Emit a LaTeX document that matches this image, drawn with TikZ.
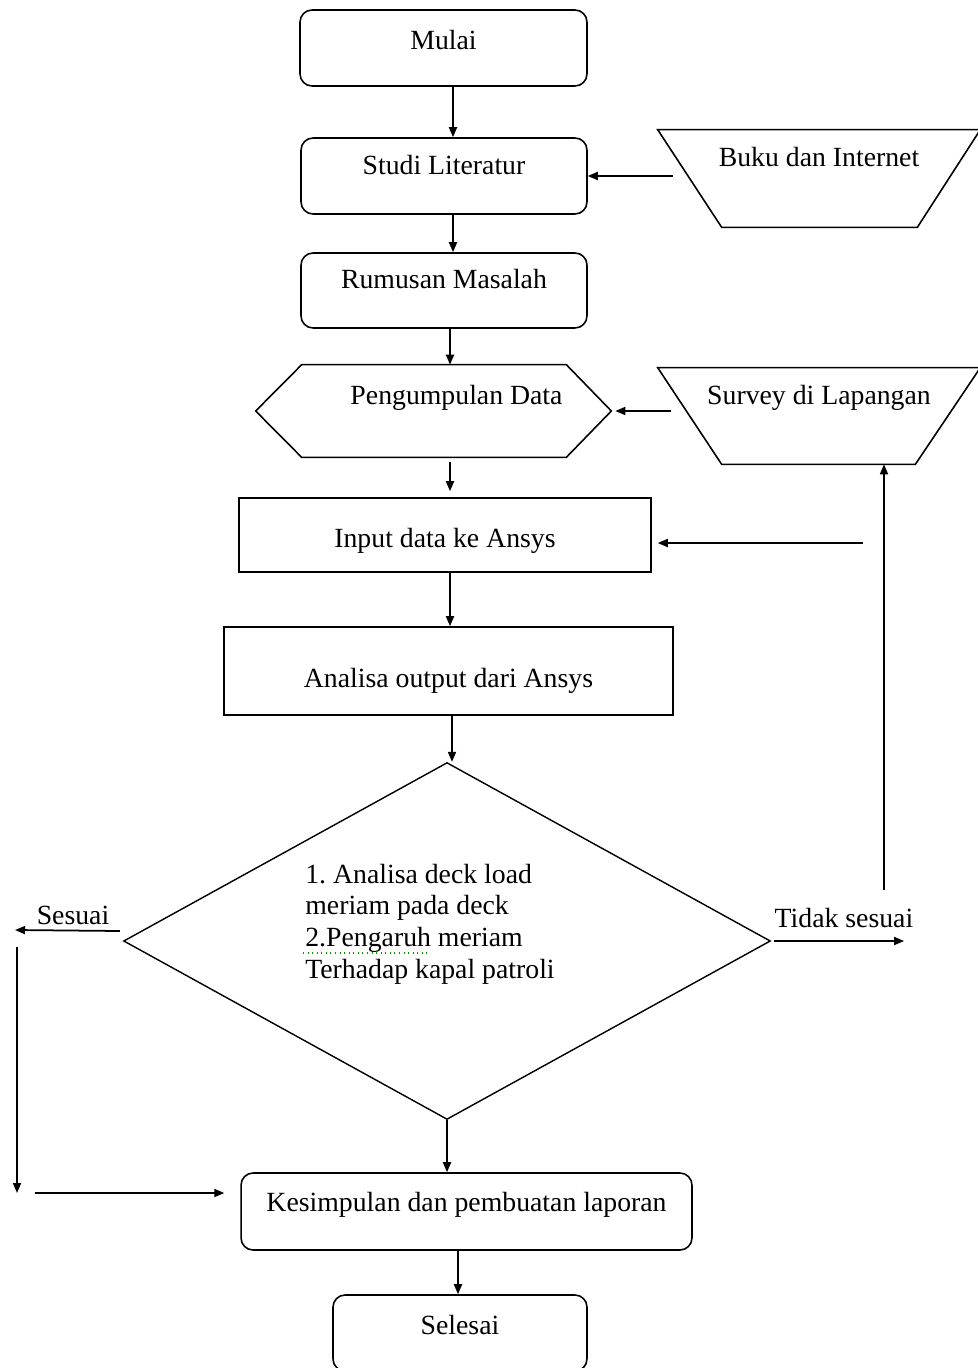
\documentclass[tikz,border=0pt]{standalone}
\usepackage{fontspec}
\setmainfont{Liberation Serif}
\usetikzlibrary{arrows.meta,shapes.geometric}
\frenchspacing

\begin{document}
\begin{tikzpicture}[x=0.02cm, y=-0.02cm,
  every node/.style={font=\fontsize{15.8}{18}\selectfont},
  rbox/.style={draw, rounded corners=0.24cm, line width=0.9pt, text height=11pt},
  sbox/.style={draw, line width=0.9pt},
  plain/.style={inner sep=0pt},
  outline/.style={line width=0.9pt},
  arr/.style={-{Triangle[length=0.2cm,width=0.16cm]}, line width=1pt}]
  \useasboundingbox (0,0) rectangle (977,1368);
  % main column
  \node[rbox, minimum width=5.74cm, minimum height=1.52cm, text depth=9pt] (mulai) at (443.5,48) {Mulai};
  \node[rbox, minimum width=5.72cm, minimum height=1.52cm, text depth=12.4pt] (studi) at (444,176) {Studi Literatur};
  \node[rbox, minimum width=5.72cm, minimum height=1.5cm, text depth=13.6pt] (rumus) at (444,290.5) {Rumusan Masalah};
  \node[minimum width=7.1cm, minimum height=1.84cm, text height=11pt, text depth=18pt] (data) at (433.5,411) {\hspace*{0.92cm}Pengumpulan Data};
  \draw[outline] (data.west) -- ([xshift=0.92cm]data.north west) -- ([xshift=-0.9cm]data.north east)
    -- (data.east) -- ([xshift=-0.9cm]data.south east) -- ([xshift=0.92cm]data.south west) -- cycle;
  \node[sbox, minimum width=8.24cm, minimum height=1.48cm, text height=15.4pt, text depth=1pt] (input) at (445,535) {Input data ke Ansys};
  \node[sbox, minimum width=8.98cm, minimum height=1.76cm, text height=20pt, text depth=1pt] (anls) at (448.5,671) {Analisa output dari Ansys};
  \node[draw, diamond, line width=0.8pt, minimum width=12.94cm, minimum height=7.14cm, inner sep=0pt] (cek) at (447,941) {};
  \node[plain, align=left] (cektxt) at (430,924) {1. Analisa deck load\\meriam pada deck\\2.Pengaruh meriam\\Terhadap kapal patroli};
  \draw[green!60!black, dotted, line width=0.6pt] (303,953) -- (430,953);
  \node[rbox, minimum width=9.02cm, minimum height=1.54cm, text depth=10.8pt] (simpul) at (466.5,1211.5) {Kesimpulan dan pembuatan laporan};
  \node[rbox, minimum width=5.08cm, minimum height=1.52cm, text depth=9pt] (selesai) at (460,1333) {Selesai};
  % data sources
  \node[minimum width=6.44cm, minimum height=1.94cm, text height=11pt, text depth=24.4pt] (buku) at (819,178.5) {Buku dan Internet};
  \draw[outline] (buku.north west) -- (buku.north east) -- ([xshift=-1.26cm]buku.south east) -- ([xshift=1.28cm]buku.south west) -- cycle;
  \node[minimum width=6.44cm, minimum height=1.92cm, text height=11pt, text depth=23.7pt] (survey) at (819,416) {Survey di Lapangan};
  \draw[outline] (survey.north west) -- (survey.north east) -- ([xshift=-1.3cm]survey.south east) -- ([xshift=1.28cm]survey.south west) -- cycle;
  % labels of the decision
  \node[plain] (tidak) at (844,918) {Tidak sesuai};
  \node[plain] (sesuai) at (73,915) {Sesuai};
  \coordinate (balik) at (863,543);
  \coordinate (naik) at (884,890);
  \coordinate (kiri) at (15,930);
  \coordinate (turun) at (17,947);
  \coordinate (bawah) at (17,1193);
  % flow
  \draw[arr] ([xshift=0.19cm]mulai.south) -- ([xshift=0.19cm]mulai.south |- studi.north);
  \draw[arr] ([xshift=0.18cm]studi.south) -- ([xshift=0.18cm]studi.south |- rumus.north);
  \draw[arr] ([xshift=0.12cm]rumus.south) -- ([xshift=0.12cm]rumus.south |- data.north);
  \draw[arr] ([shift={(0.33cm,-0.1cm)}]data.south) -- ([shift={(0.33cm,0.12cm)}]data.south |- input.north);
  \draw[arr] ([xshift=0.1cm]input.south) -- ([xshift=0.1cm]input.south |- anls.north);
  \draw[arr] ([xshift=0.07cm]anls.south) -- ([xshift=0.07cm]anls.south |- cek.north);
  \draw[arr] (cek.south) -- (cek.south |- simpul.north);
  \draw[arr] ([xshift=-0.17cm]simpul.south) -- ([xshift=-0.17cm]simpul.south |- selesai.north);
  \draw[arr] ([xshift=0.3cm]buku.west |- studi.east) -- (studi.east);
  \draw[arr] ([xshift=0.26cm]survey.west |- data.east) -- ([xshift=0.08cm]data.east);
  \draw[arr] (balik) -- ([xshift=0.12cm]balik -| input.east);
  \draw[arr] (naik) -- (naik |- survey.south);
  \draw[arr] ([xshift=0.06cm]cek.east) -- ([xshift=2.66cm]cek.east);
  \draw[arr] ([shift={(-0.06cm,0.2cm)}]cek.west) -- (kiri);
  \draw[arr] (turun) -- (bawah);
  \draw[arr] ([xshift=0.36cm]bawah) -- ([xshift=-0.32cm]bawah -| simpul.west);
\end{tikzpicture}
\end{document}
